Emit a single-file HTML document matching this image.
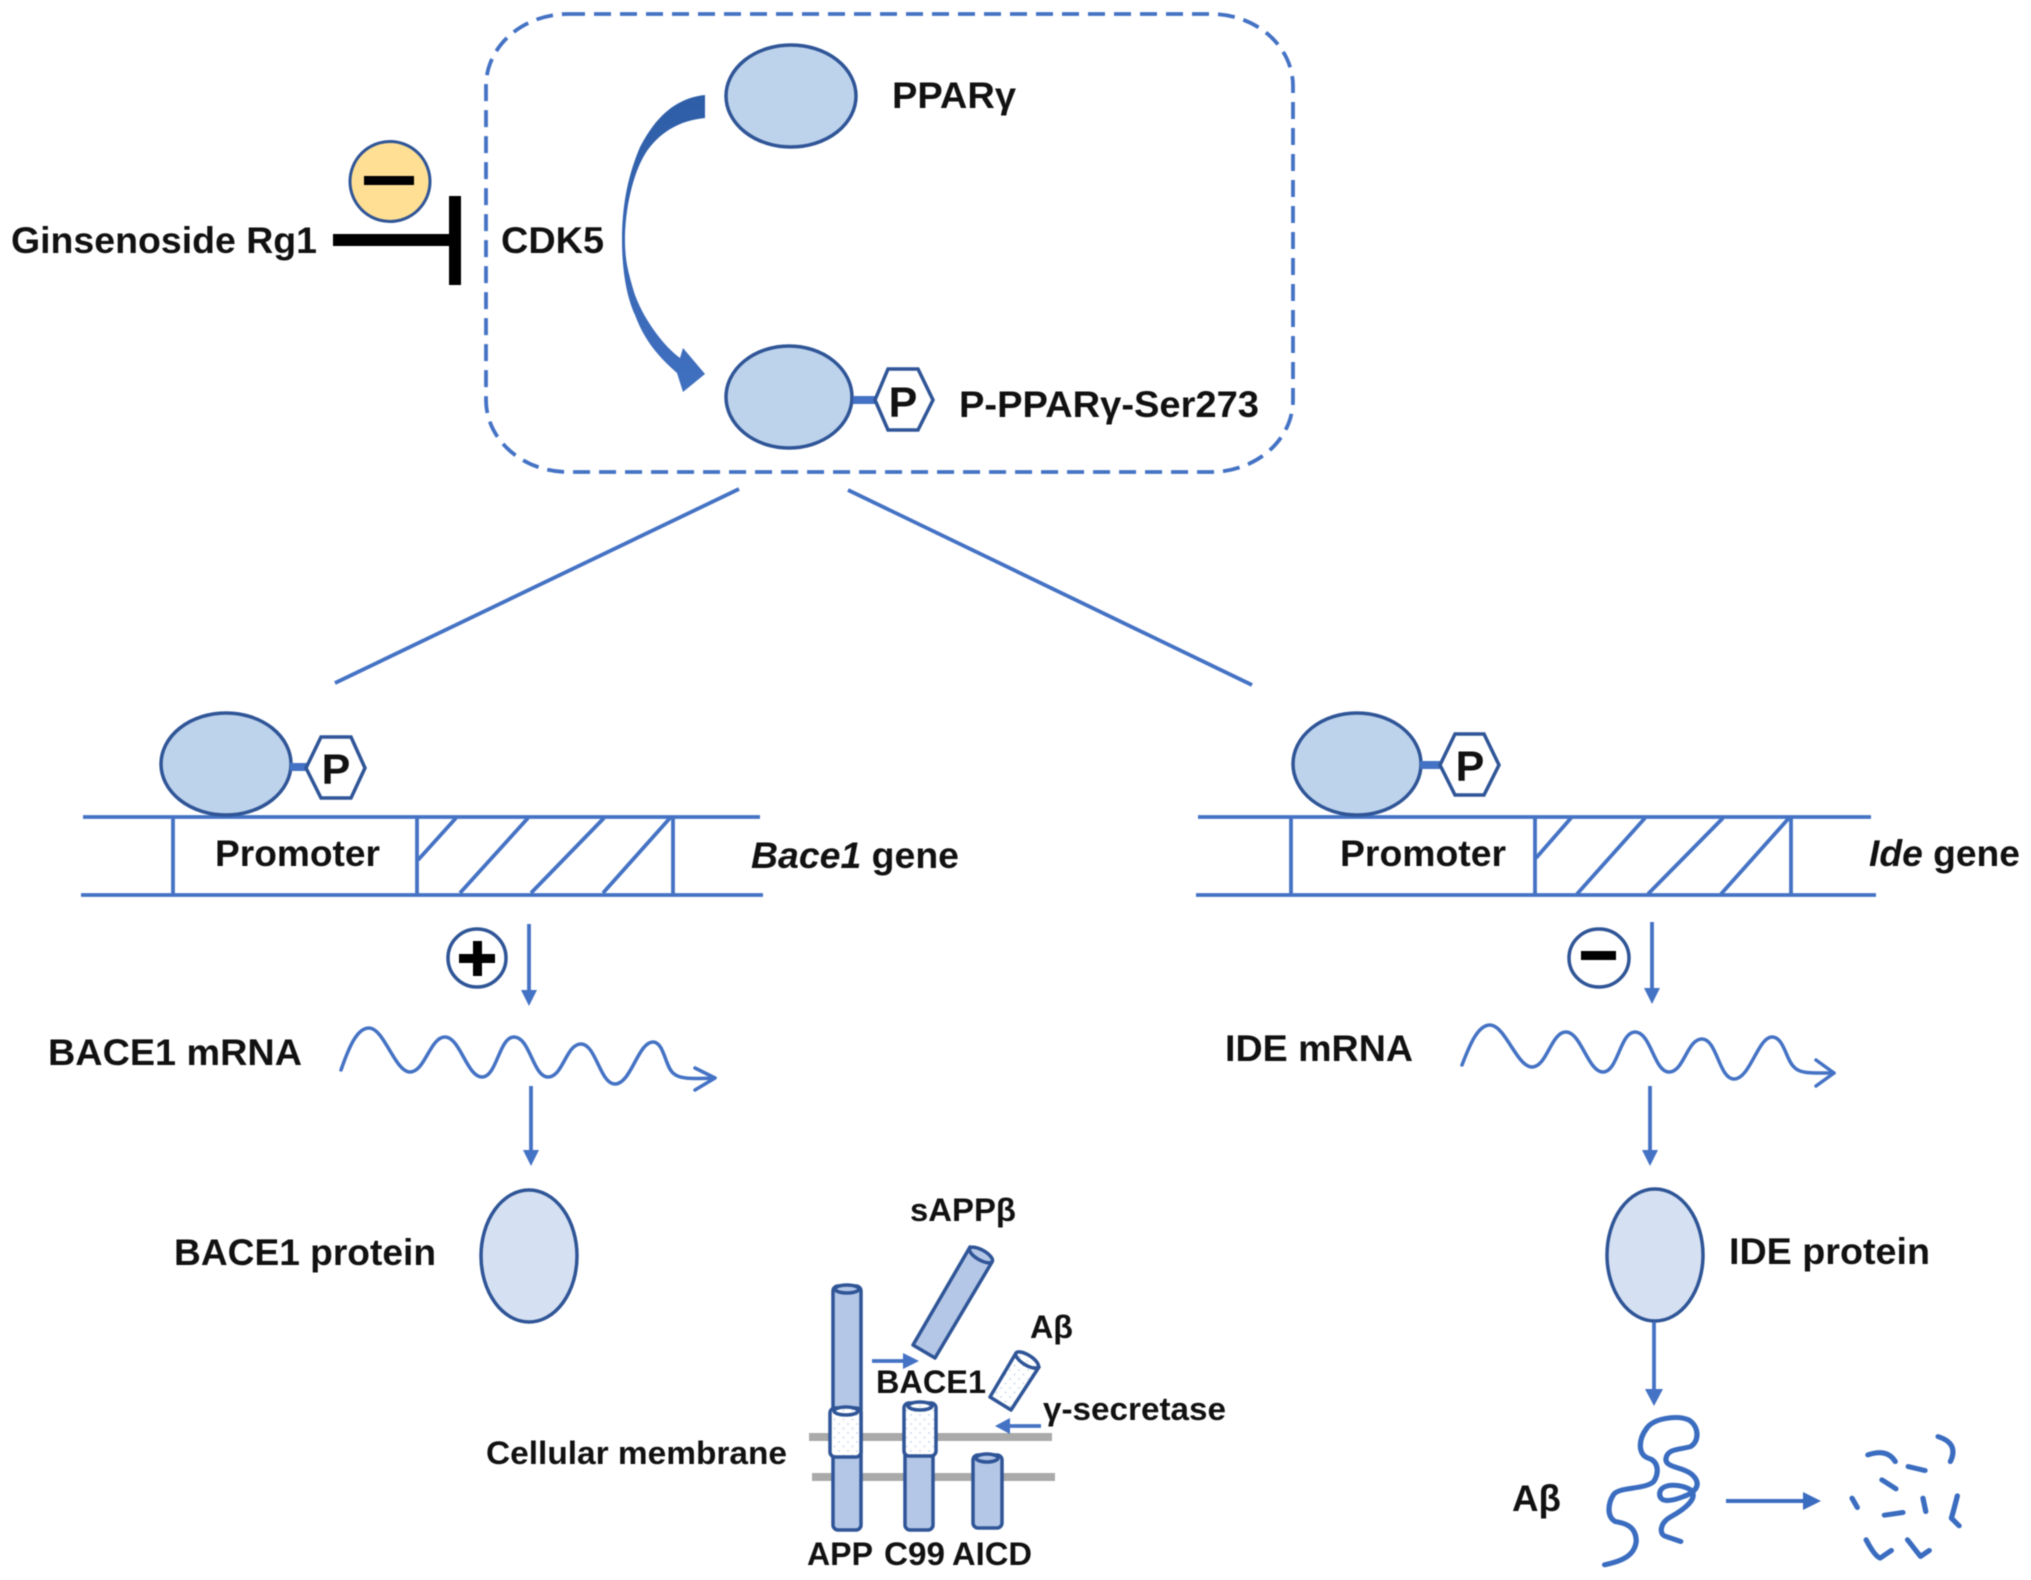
<!DOCTYPE html>
<html>
<head>
<meta charset="utf-8">
<style>
html,body{margin:0;padding:0;background:#fff;width:2031px;height:1580px;overflow:hidden}
svg{display:block;filter:blur(.45px)}
text{font-family:"Liberation Sans",sans-serif;font-weight:bold;fill:#111;transform:translateY(1px)}
.big{font-size:37px}
.sm{font-size:32px}
.p{font-size:43px;text-anchor:middle}
.b{fill:none;stroke:#4472c4;stroke-width:3.8}
.w{fill:none;stroke:#4472c4;stroke-width:3.5;stroke-linecap:round;stroke-linejoin:round}
.ell{fill:#bdd3ec;stroke:#2f5597;stroke-width:3.5}
.ell2{fill:#d5e1f2;stroke:#2f5597;stroke-width:3.5}
.hex{fill:#fff;stroke:#2f5597;stroke-width:3.5}
.cyl{fill:#b4c7e7;stroke:#2f5597;stroke-width:3.5}
.dot{fill:url(#dots);stroke:#2f5597;stroke-width:3.5}
.h{fill:#4472c4}
.sq{fill:none;stroke:#3a6cc0;stroke-width:15;stroke-linecap:round;stroke-linejoin:round}
</style>
</head>
<body>
<svg width="2031" height="1580" viewBox="0 0 2031 1580" xmlns="http://www.w3.org/2000/svg">
<defs>
<pattern id="dots" width="9" height="9" patternUnits="userSpaceOnUse">
<rect width="9" height="9" fill="#fff"/>
<circle cx="2" cy="2" r=".9" fill="#c5d3ea"/>
<circle cx="6.5" cy="6.5" r=".9" fill="#c5d3ea"/>
</pattern>
<linearGradient id="cur" x1="0" y1="0" x2="0" y2="1">
<stop offset="0" stop-color="#2f5ea8"/>
<stop offset="1" stop-color="#4070c0"/>
</linearGradient>
</defs>

<!-- dashed box -->
<rect x="486" y="14" width="807" height="458" rx="82" ry="72" fill="none" stroke="#4472c4" stroke-width="3.8" stroke-dasharray="17 9"/>

<!-- PPAR -->
<ellipse class="ell" cx="791" cy="96" rx="65" ry="51"/>
<text class="big" x="892" y="107" textLength="124" lengthAdjust="spacingAndGlyphs">PPARγ</text>

<ellipse class="ell" cx="789" cy="397" rx="63" ry="51"/>
<rect x="853" y="396" width="24" height="8" fill="#4472c4"/>
<polygon class="hex" points="875,400 888,369 918,369 933,400 918,430 888,430"/>
<text class="p" x="903" y="416">P</text>
<text class="big" x="959" y="416" textLength="300" lengthAdjust="spacingAndGlyphs">P-PPARγ-Ser273</text>

<!-- curved arrow -->
<path fill="url(#cur)" d="M705,95 C675,98 655,118 640,147 C628,175 622,205 622,240 C622,275 628,300 635,315 C645,342 660,358 677,373 L683,392 L705,374 L683,348 L680,358 C665,347 645,322 635,295 C628,272 625,260 625,240 C625,205 635,165 650,147 C665,128 685,120 705,118 Z"/>

<!-- inhibitor -->
<circle cx="390" cy="181.5" r="40" fill="#ffdf94" stroke="#2f5597" stroke-width="3"/>
<rect x="364" y="176" width="50" height="9" fill="#000"/>
<rect x="333" y="234" width="120" height="12" fill="#000"/>
<rect x="449" y="196" width="12" height="89" fill="#000"/>
<text class="big" x="11" y="252" textLength="306" lengthAdjust="spacingAndGlyphs">Ginsenoside Rg1</text>
<text class="big" x="501" y="252" textLength="103" lengthAdjust="spacingAndGlyphs">CDK5</text>

<!-- diagonals -->
<line class="b" x1="739" y1="489" x2="335" y2="683"/>
<line class="b" x1="848" y1="490" x2="1252" y2="685"/>

<!-- left gene -->
<line class="b" x1="83" y1="817" x2="760" y2="817"/>
<line class="b" x1="81" y1="895" x2="763" y2="895"/>
<line class="b" x1="173" y1="817" x2="173" y2="895"/>
<line class="b" x1="417" y1="817" x2="417" y2="895"/>
<line class="b" x1="673" y1="817" x2="673" y2="895"/>
<line class="b" x1="418" y1="860" x2="456" y2="818"/>
<line class="b" x1="460" y1="893" x2="528" y2="818"/>
<line class="b" x1="531" y1="893" x2="604" y2="818"/>
<line class="b" x1="603" y1="893" x2="670" y2="818"/>
<ellipse class="ell" cx="226" cy="764" rx="65" ry="51"/>
<rect x="290" y="763" width="20" height="8" fill="#4472c4"/>
<polygon class="hex" points="306,768 321,737 351,737 365,768 351,798 321,798"/>
<text class="p" x="336" y="783">P</text>
<text class="big" x="215" y="865" textLength="165" lengthAdjust="spacingAndGlyphs">Promoter</text>
<text class="big" x="751" y="867" textLength="208" lengthAdjust="spacingAndGlyphs"><tspan font-style="italic">Bace1</tspan> gene</text>

<circle cx="477" cy="958" r="29" fill="#fff" stroke="#2f5597" stroke-width="3.5"/>
<rect x="459" y="954" width="36" height="9" fill="#000"/>
<rect x="473" y="941" width="9" height="35" fill="#000"/>
<line class="b" x1="529" y1="924" x2="529" y2="995"/>
<polygon class="h" points="521,990 537,990 529,1006"/>

<text class="big" x="48" y="1064" textLength="254" lengthAdjust="spacingAndGlyphs">BACE1 mRNA</text>
<path class="w" d="M341,1070 C349,1047 357,1028 369,1028 C384,1028 395,1072 410,1072 C425,1072 430,1037 445,1037 C460,1037 467,1077 482,1077 C497,1077 499,1037 514,1037 C530,1037 533,1077 548,1077 C563,1077 566,1044 581,1044 C596,1044 600,1084 615,1084 C631,1084 638,1042 653,1042 C664,1042 665,1066 673,1073 C679,1079 690,1079 715,1078"/>
<path class="w" d="M695,1068 L715,1078 L695,1090"/>
<line class="b" x1="531" y1="1086" x2="531" y2="1156"/>
<polygon class="h" points="523,1150 539,1150 531,1166"/>
<ellipse class="ell2" cx="529" cy="1256" rx="48" ry="66"/>
<text class="big" x="174" y="1264" textLength="262" lengthAdjust="spacingAndGlyphs">BACE1 protein</text>

<!-- right gene -->
<line class="b" x1="1198" y1="817" x2="1871" y2="817"/>
<line class="b" x1="1196" y1="895" x2="1876" y2="895"/>
<line class="b" x1="1291" y1="817" x2="1291" y2="895"/>
<line class="b" x1="1535" y1="817" x2="1535" y2="895"/>
<line class="b" x1="1791" y1="817" x2="1791" y2="895"/>
<line class="b" x1="1536" y1="858" x2="1571" y2="818"/>
<line class="b" x1="1577" y1="894" x2="1645" y2="818"/>
<line class="b" x1="1648" y1="894" x2="1723" y2="818"/>
<line class="b" x1="1721" y1="894" x2="1789" y2="818"/>
<ellipse class="ell" cx="1357" cy="764" rx="64" ry="51"/>
<rect x="1420" y="761" width="22" height="8" fill="#4472c4"/>
<polygon class="hex" points="1440,765 1455,734 1484,734 1499,765 1484,795 1455,795"/>
<text class="p" x="1470" y="780">P</text>
<text class="big" x="1340" y="865" textLength="166" lengthAdjust="spacingAndGlyphs">Promoter</text>
<text class="big" x="1869" y="865" textLength="151" lengthAdjust="spacingAndGlyphs"><tspan font-style="italic">Ide</tspan> gene</text>

<ellipse cx="1599" cy="958" rx="30" ry="29" fill="#fff" stroke="#2f5597" stroke-width="3.5"/>
<rect x="1581" y="951" width="35" height="9" fill="#000"/>
<line class="b" x1="1652" y1="922" x2="1652" y2="993"/>
<polygon class="h" points="1644,988 1660,988 1652,1004"/>

<text class="big" x="1225" y="1060" textLength="188" lengthAdjust="spacingAndGlyphs">IDE mRNA</text>
<path class="w" d="M1462,1065 C1470,1044 1478,1025 1490,1025 C1505,1025 1517,1067 1532,1067 C1547,1067 1551,1032 1566,1032 C1581,1032 1588,1072 1603,1072 C1618,1072 1620,1032 1635,1032 C1651,1032 1654,1072 1669,1072 C1684,1072 1687,1039 1702,1039 C1717,1039 1719,1079 1734,1079 C1750,1079 1758,1037 1772,1037 C1784,1037 1786,1060 1794,1067 C1800,1074 1812,1073 1834,1073"/>
<path class="w" d="M1816,1060 L1834,1073 L1816,1086"/>
<line class="b" x1="1650" y1="1086" x2="1650" y2="1156"/>
<polygon class="h" points="1642,1150 1658,1150 1650,1166"/>
<ellipse class="ell2" cx="1655" cy="1255" rx="48" ry="66"/>
<text class="big" x="1729" y="1263" textLength="201" lengthAdjust="spacingAndGlyphs">IDE protein</text>
<line class="b" x1="1654" y1="1322" x2="1654" y2="1392"/>
<polygon class="h" points="1645,1389 1663,1389 1654,1406"/>

<!-- membrane -->
<rect x="809" y="1433" width="243" height="8" fill="#aaa"/>
<rect x="812" y="1473" width="243" height="8" fill="#aaa"/>

<!-- APP -->
<rect class="cyl" x="833" y="1286" width="28" height="244" rx="5"/>
<ellipse class="cyl" cx="847" cy="1289" rx="12" ry="4"/>
<rect class="dot" x="830" y="1408" width="31" height="49" rx="5"/>
<ellipse class="dot" cx="846" cy="1411" rx="12" ry="4"/>
<!-- C99 -->
<rect class="cyl" x="905" y="1450" width="28" height="80" rx="5"/>
<rect class="dot" x="904" y="1403" width="32" height="53" rx="5"/>
<ellipse class="dot" cx="920" cy="1406" rx="12" ry="4"/>
<!-- AICD -->
<rect class="cyl" x="973" y="1455" width="29" height="73" rx="5"/>
<ellipse class="cyl" cx="987" cy="1458" rx="11" ry="4"/>
<!-- sAPPb -->
<polygon class="cyl" stroke-linejoin="round" points="970,1247 992,1262 935,1358 913,1345"/>
<ellipse class="cyl" cx="981" cy="1255" rx="13" ry="5" transform="rotate(30 981 1255)"/>
<!-- Abeta tube -->
<polygon class="dot" stroke-linejoin="round" points="1016,1353 1039,1367 1011,1410 990,1397"/>
<ellipse class="dot" cx="1027" cy="1360" rx="13" ry="5" transform="rotate(32 1027 1360)"/>

<line class="b" x1="872" y1="1361" x2="906" y2="1361"/>
<polygon class="h" points="903,1353 903,1369 919,1361"/>
<line class="b" x1="1041" y1="1426" x2="1006" y2="1426"/>
<polygon class="h" points="1010,1418 1010,1434 995,1426"/>

<text class="sm" x="910" y="1220" textLength="106" lengthAdjust="spacingAndGlyphs">sAPPβ</text>
<text class="sm" x="1030" y="1337" textLength="43" lengthAdjust="spacingAndGlyphs">Aβ</text>
<text class="sm" x="876" y="1392" textLength="110" lengthAdjust="spacingAndGlyphs">BACE1</text>
<text class="sm" x="1043" y="1419" textLength="183" lengthAdjust="spacingAndGlyphs">γ-secretase</text>
<text class="sm" x="486" y="1463" textLength="301" lengthAdjust="spacingAndGlyphs">Cellular membrane</text>
<text class="sm" x="807" y="1564" textLength="66" lengthAdjust="spacingAndGlyphs">APP</text>
<text class="sm" x="884" y="1564" textLength="61" lengthAdjust="spacingAndGlyphs">C99</text>
<text class="sm" x="952" y="1564" textLength="80" lengthAdjust="spacingAndGlyphs">AICD</text>

<!-- Abeta squiggle -->
<text class="big" x="1512" y="1510" textLength="49" lengthAdjust="spacingAndGlyphs">Aβ</text>
<g transform="translate(1480,1340) scale(.351,.333)">
<path class="sq" d="M355,675 C400,665 440,650 445,605 C445,560 415,550 385,545 C360,530 365,490 380,465 C395,440 470,450 495,425 C510,400 510,365 480,355 C450,345 450,300 475,265 C495,235 560,225 595,240 C625,260 625,305 600,320 C570,330 535,325 530,355 C525,385 580,380 605,405 C630,430 620,455 580,470 C545,485 510,490 512,460 C515,430 570,430 600,450 C625,475 580,510 545,530 C510,550 510,585 530,590 L572,605"/>
<path class="sq" d="M1105,345 Q1160,325 1183,365"/>
<path class="sq" d="M1220,380 L1268,392"/>
<path class="sq" d="M1305,290 Q1365,310 1340,365"/>
<path class="sq" d="M1145,420 L1185,447"/>
<path class="sq" d="M1060,475 L1075,503"/>
<path class="sq" d="M1262,475 L1270,515"/>
<path class="sq" d="M1360,468 Q1350,510 1343,535 L1365,558"/>
<path class="sq" d="M1152,526 L1205,518"/>
<path class="sq" d="M1100,600 Q1125,650 1140,655 L1172,632"/>
<path class="sq" d="M1218,600 L1255,650 L1280,632"/>
</g>
<line x1="1726" y1="1501" x2="1806" y2="1501" stroke="#3a6cc0" stroke-width="4"/>
<polygon points="1803,1492 1803,1510 1821,1501" fill="#3a6cc0"/>
</svg>
</body>
</html>
